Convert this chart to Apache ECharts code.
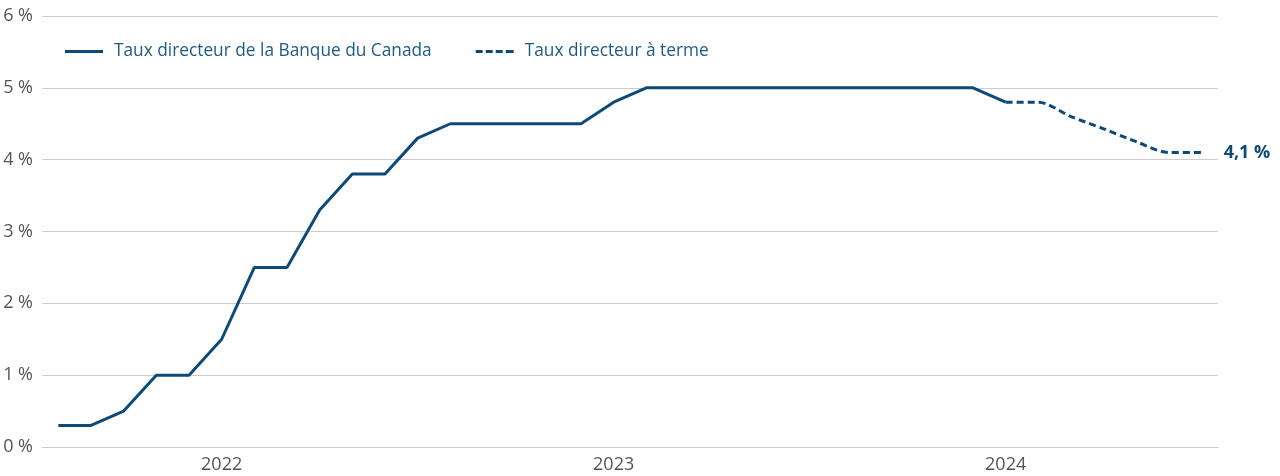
<!DOCTYPE html>
<html>
<head>
<meta charset="utf-8">
<script src="https://cdn.jsdelivr.net/npm/echarts@6/dist/echarts.min.js"></script>
<style>html,body{margin:0;padding:0;background:#fff}#c{width:1280px;height:476px}</style>
</head>
<body>
<div id="c"></div>
<script>
const months = [];
for (let y = 2022; y <= 2024; y++) for (let m = 1; m <= 12; m++) months.push(y + '-' + String(m).padStart(2, '0'));
const yearLabels = {'2022-06': '2022', '2023-06': '2023', '2024-06': '2024'};
const policyRate = [0.3,0.3,0.5,1.0,1.0,1.5,2.5,2.5,3.3,3.8,3.8,4.3,
  4.5,4.5,4.5,4.5,4.5,4.8,5.0,5.0,5.0,5.0,5.0,5.0,
  5.0,5.0,5.0,5.0,5.0,4.8,null,null,null,null,null,null];
const forwardRate = [null,null,null,null,null,null,null,null,null,null,null,null,
  null,null,null,null,null,null,null,null,null,null,null,null,
  null,null,null,null,null,4.8,4.8,4.6,4.43,4.25,4.1,4.1];
const yTicks = [0,1,2,3,4,5,6];
const seriesNames = ['Taux directeur de la Banque du Canada', 'Taux directeur à terme'];
const endLabelText = '4,1 %';

const FONT = '"Open Sans", Lato, sans-serif';
const BLUE = '#0d4a78';
const chart = echarts.init(document.getElementById('c'));
chart.setOption({
  animation: false,
  textStyle: {fontFamily: FONT},
  grid: {left: 42, right: 62, top: 16, bottom: 29},
  legend: {
    left: 65, top: 43, itemWidth: 38, itemHeight: 3, itemGap: 44, padding: 0,
    textStyle: {color: '#1d5b86', fontSize: 17.3, fontFamily: FONT, padding: [0, 0, 0, 6]},
    data: [
      {name: seriesNames[0], icon: 'path://M0,0H38V3H0Z'},
      {name: seriesNames[1], icon: 'path://M0,0H7V3H0Z M10,0H17V3H10Z M20,0H27V3H20Z M30,0H38V3H30Z'}
    ]
  },
  xAxis: {
    type: 'category', data: months, boundaryGap: true,
    axisLine: {lineStyle: {color: '#cccccc'}},
    axisTick: {show: false},
    axisLabel: {
      interval: function (i) { return !!yearLabels[months[i]]; },
      formatter: function (v) { return yearLabels[v] || ''; },
      color: '#555', fontSize: 18, margin: 9, fontFamily: FONT
    },
    splitLine: {show: false}
  },
  yAxis: {
    type: 'value', min: yTicks[0], max: yTicks[yTicks.length - 1], interval: 1,
    axisLine: {show: false}, axisTick: {show: false},
    axisLabel: {formatter: '{value} %', color: '#555', fontSize: 18, margin: 9, fontFamily: FONT},
    splitLine: {lineStyle: {color: '#cccccc'}}
  },
  series: [
    {name: seriesNames[0], type: 'line', data: policyRate, showSymbol: false, symbol: 'none',
      lineStyle: {color: BLUE, width: 3}, itemStyle: {color: BLUE}},
    {name: seriesNames[1], type: 'line', data: forwardRate, showSymbol: false, symbol: 'none', smooth: 0.3,
      lineStyle: {color: BLUE, width: 3, type: [7, 4]}, itemStyle: {color: BLUE},
      endLabel: {show: true, formatter: endLabelText, color: BLUE, fontSize: 18, fontWeight: 'bold', distance: 22, fontFamily: FONT}}
  ]
});
</script>
</body>
</html>
